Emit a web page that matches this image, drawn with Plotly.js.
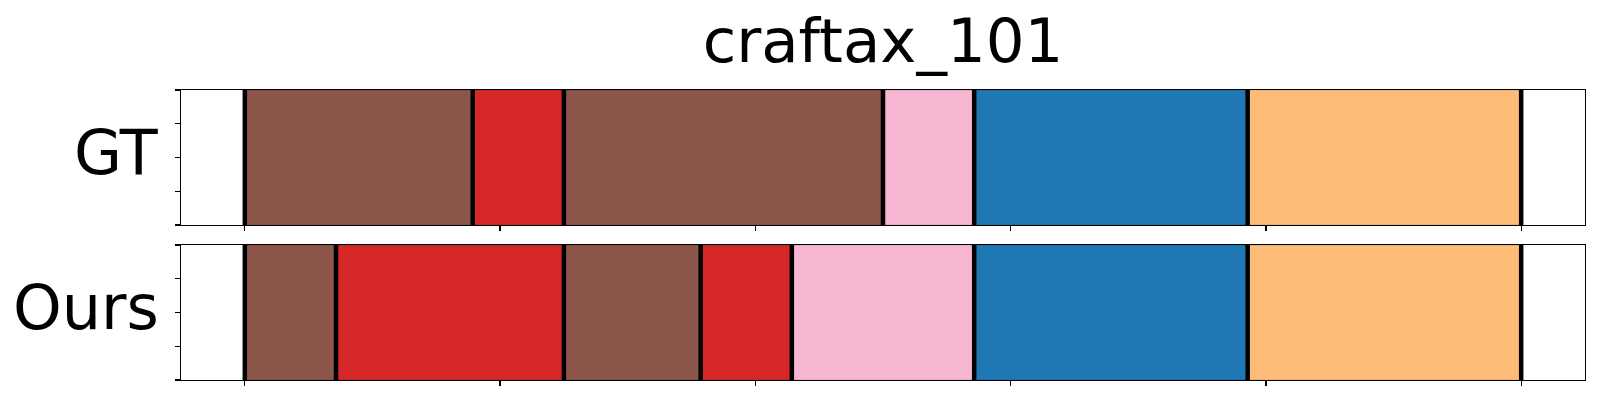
<!DOCTYPE html>
<html>
<head>
<meta charset="utf-8">
<script src="https://cdn.plot.ly/plotly-3.0.1.min.js"></script>
<style>html,body{margin:0;padding:0;background:#fff;}#chart{width:1600px;height:400px;}</style>
</head>
<body>
<div id="chart"></div>
<script>
// ---- data ----
const chartTitle = "craftax_101";
const rowNames = ["GT", "Ours"];
const totalFrames = 140;
const gtStarts = [0, 25, 35, 70, 80, 110];
const gtEnds   = [25, 35, 70, 80, 110, 140];
const gtClass  = ["brown", "red", "brown", "pink", "blue", "orange"];
const oursStarts = [0, 10, 35, 50, 60, 80, 110];
const oursEnds   = [10, 35, 50, 60, 80, 110, 140];
const oursClass  = ["brown", "red", "brown", "red", "pink", "blue", "orange"];
const xTickVals = [0, 28, 56, 84, 112, 140];
const yTickVals = [0, 0.25, 0.5, 0.75, 1];

// ---- styles ----
const palette = {brown: "#8c564b", red: "#d62728", pink: "#f7b6d2", blue: "#1f77b4", orange: "#ffbb78"};
const FONT = "DejaVu Sans, sans-serif";

function segTrace(starts, ends, cls, xa, ya) {
  return {
    type: "bar", orientation: "h",
    y: starts.map(() => 0.5), width: starts.map(() => 1),
    base: starts, x: starts.map((s, i) => ends[i] - s),
    marker: {color: cls.map(c => palette[c]), line: {width: 0.6, color: "rgba(0,0,0,0.25)"}},
    xaxis: xa, yaxis: ya, hoverinfo: "skip", showlegend: false
  };
}
function boundaryTrace(starts, ends, xa, ya) {
  const b = Array.from(new Set(starts.concat(ends))).sort((a, c) => a - c);
  const xs = [], ys = [];
  b.forEach(v => { xs.push(v, v, null); ys.push(0, 1, null); });
  return {type: "scatter", mode: "lines", x: xs, y: ys, line: {color: "#000", width: 4.5},
          xaxis: xa, yaxis: ya, hoverinfo: "skip", showlegend: false, cliponaxis: true};
}

const data = [
  segTrace(gtStarts, gtEnds, gtClass, "x", "y"),
  boundaryTrace(gtStarts, gtEnds, "x", "y"),
  segTrace(oursStarts, oursEnds, oursClass, "x2", "y2"),
  boundaryTrace(oursStarts, oursEnds, "x2", "y2")
];

const W = 1600, H = 400;
const ml = 181, mr = 14.5, mt = 90, mb = 20;
const ph = H - mt - mb;
const dGT = [(H - mb - 225) / ph, 1];
const dOurs = [0, (H - mb - 245) / ph];
const pad = 0.05 * totalFrames;

function xAxis(anchor) {
  return {domain: [0, 1], anchor: anchor, range: [-pad, totalFrames + pad],
    showgrid: false, zeroline: false, showline: true, mirror: true, linecolor: "#000", linewidth: 1.2,
    tickmode: "array", tickvals: xTickVals, ticks: "outside", ticklen: 5, tickwidth: 1.2, tickcolor: "#000",
    showticklabels: false, fixedrange: true};
}
function yAxis(anchor, dom) {
  return {domain: dom, anchor: anchor, range: [0, 1],
    showgrid: false, zeroline: false, showline: true, mirror: true, linecolor: "#000", linewidth: 1.2,
    tickmode: "array", tickvals: yTickVals, ticks: "outside", ticklen: 5, tickwidth: 1.2, tickcolor: "#000",
    showticklabels: false, fixedrange: true};
}
const pw = W - ml - mr;
const labelX = (161 - ml) / pw;
const lift = 5 / ph;

const layout = {
  width: W, height: H,
  margin: {l: ml, r: mr, t: mt, b: mb, pad: 0},
  paper_bgcolor: "#fff", plot_bgcolor: "#fff",
  barmode: "overlay", bargap: 0,
  title: {text: chartTitle, font: {family: FONT, size: 61, color: "#000"},
          x: 0.5, xref: "paper", xanchor: "center", yref: "container", y: 1 - 41 / H, yanchor: "middle"},
  xaxis: xAxis("y"), yaxis: yAxis("x", dGT),
  xaxis2: xAxis("y2"), yaxis2: yAxis("x2", dOurs),
  annotations: [
    {text: rowNames[0], xref: "paper", yref: "paper", x: labelX, y: (dGT[0] + dGT[1]) / 2 + lift,
     xanchor: "right", yanchor: "middle", showarrow: false, font: {family: FONT, size: 62, color: "#000"}},
    {text: rowNames[1], xref: "paper", yref: "paper", x: labelX, y: (dOurs[0] + dOurs[1]) / 2 + lift,
     xanchor: "right", yanchor: "middle", showarrow: false, font: {family: FONT, size: 62, color: "#000"}}
  ],
  showlegend: false
};

Plotly.newPlot("chart", data, layout, {staticPlot: true, displayModeBar: false});
</script>
</body>
</html>
